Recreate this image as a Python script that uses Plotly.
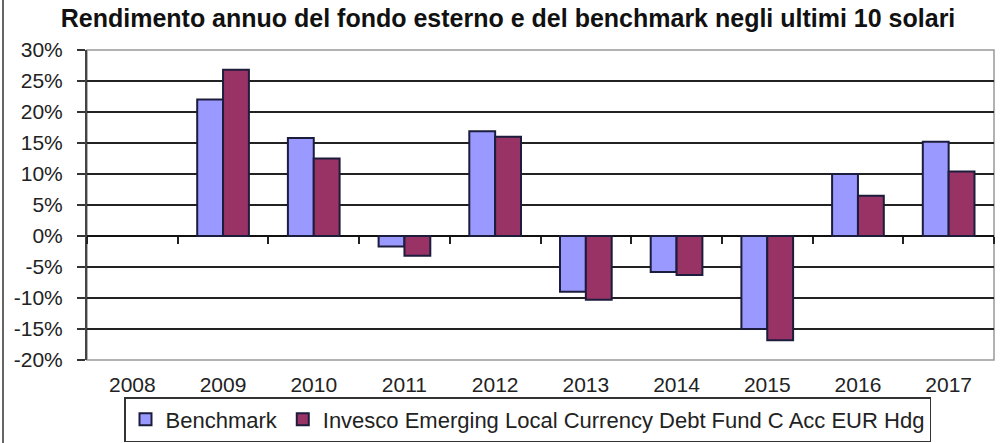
import plotly.graph_objects as go

years = ["2008", "2009", "2010", "2011", "2012", "2013", "2014", "2015", "2016", "2017"]
benchmark = [None, 22.0, 15.8, -1.7, 16.9, -9.0, -5.8, -15.0, 10.0, 15.2]
fund = [None, 26.8, 12.5, -3.2, 16.0, -10.3, -6.3, -16.8, 6.5, 10.4]
series_names = ["Benchmark", "Invesco Emerging Local Currency Debt Fund C Acc EUR Hdg"]
y_ticks = list(range(-20, 31, 5))
title_text = "Rendimento annuo del fondo esterno e del benchmark negli ultimi 10 solari"

W, H = 1004, 443
ML, MR, MT, MB = 87, 10, 50, 83
PW, PH = W - ML - MR, H - MT - MB
ymin, ymax = -20, 30
font = "Liberation Sans, Arial, sans-serif"

fig = go.Figure()
fig.add_trace(go.Bar(x=years, y=benchmark, name=series_names[0],
                     marker=dict(color="#9999FF", line=dict(color="#1c1c3c", width=2))))
fig.add_trace(go.Bar(x=years, y=fund, name=series_names[1],
                     marker=dict(color="#993366", line=dict(color="#1c1c3c", width=2))))
# invisible helper trace for the tick axis at zero
fig.add_trace(go.Scatter(x=years, y=[0] * len(years), xaxis="x2", mode="markers",
                         marker=dict(opacity=0), showlegend=False, hoverinfo="skip"))

zero_pos = (0 - ymin) / (ymax - ymin)

fig.update_layout(
    width=W, height=H,
    margin=dict(l=ML, r=MR, t=MT, b=MB, autoexpand=False),
    paper_bgcolor="white", plot_bgcolor="white",
    barmode="group", bargap=0.43, bargroupgap=0,
    font=dict(family=font, color="#222222"),
    title=dict(text="<b>" + title_text + "</b>", font=dict(size=25, color="#111111", family=font),
               xref="container", x=0.506, xanchor="center",
               yref="container", y=1 - 18 / H, yanchor="middle"),
    xaxis=dict(type="category", categoryorder="array", categoryarray=years,
               range=[-0.5, len(years) - 0.5], showgrid=False, showline=False, zeroline=False,
               automargin=False,
               ticks="", tickfont=dict(size=21, color="#222222"), ticklabelstandoff=10),
    xaxis2=dict(type="category", categoryorder="array", categoryarray=years,
                range=[-0.5, len(years) - 0.5], overlaying="x", anchor="free", position=zero_pos,
                side="bottom", showgrid=False, showline=False, zeroline=False, automargin=False,
                showticklabels=False, ticks="outside", tickson="boundaries",
                ticklen=7, tickwidth=1.5, tickcolor="#222222"),
    yaxis=dict(range=[ymin, ymax], tickvals=y_ticks, ticktext=[f"{v}%" for v in y_ticks],
               automargin=False,
               showgrid=True, gridcolor="#222222", gridwidth=1.5,
               zeroline=True, zerolinecolor="#111111", zerolinewidth=2,
               showline=True, linecolor="#444444", linewidth=2,
               ticks="outside", ticklen=8, tickwidth=1.5, tickcolor="#333333",
               tickfont=dict(size=21, color="#222222"), ticklabelstandoff=10),
    legend=dict(orientation="h", x=(124 - ML) / PW, xanchor="left",
                y=(H - MB - 442) / PH, yanchor="bottom",
                bgcolor="white", bordercolor="#333333", borderwidth=1.5,
                font=dict(size=22, color="#222222"), itemwidth=30, tracegroupgap=0),
    shapes=[
        dict(type="rect", xref="x domain", yref="y domain", x0=0, x1=1, y0=0, y1=1,
             line=dict(color="#999999", width=1.5), layer="below"),
        dict(type="line", xref="paper", yref="paper",
             x0=(3 - ML) / PW, x1=(3 - ML) / PW,
             y0=-MB / PH, y1=(H - MB) / PH,
             line=dict(color="#666666", width=2)),
    ],
)

fig.write_html("out.html", config={"displayModeBar": False},
               post_script="document.body.style.margin='0';")
